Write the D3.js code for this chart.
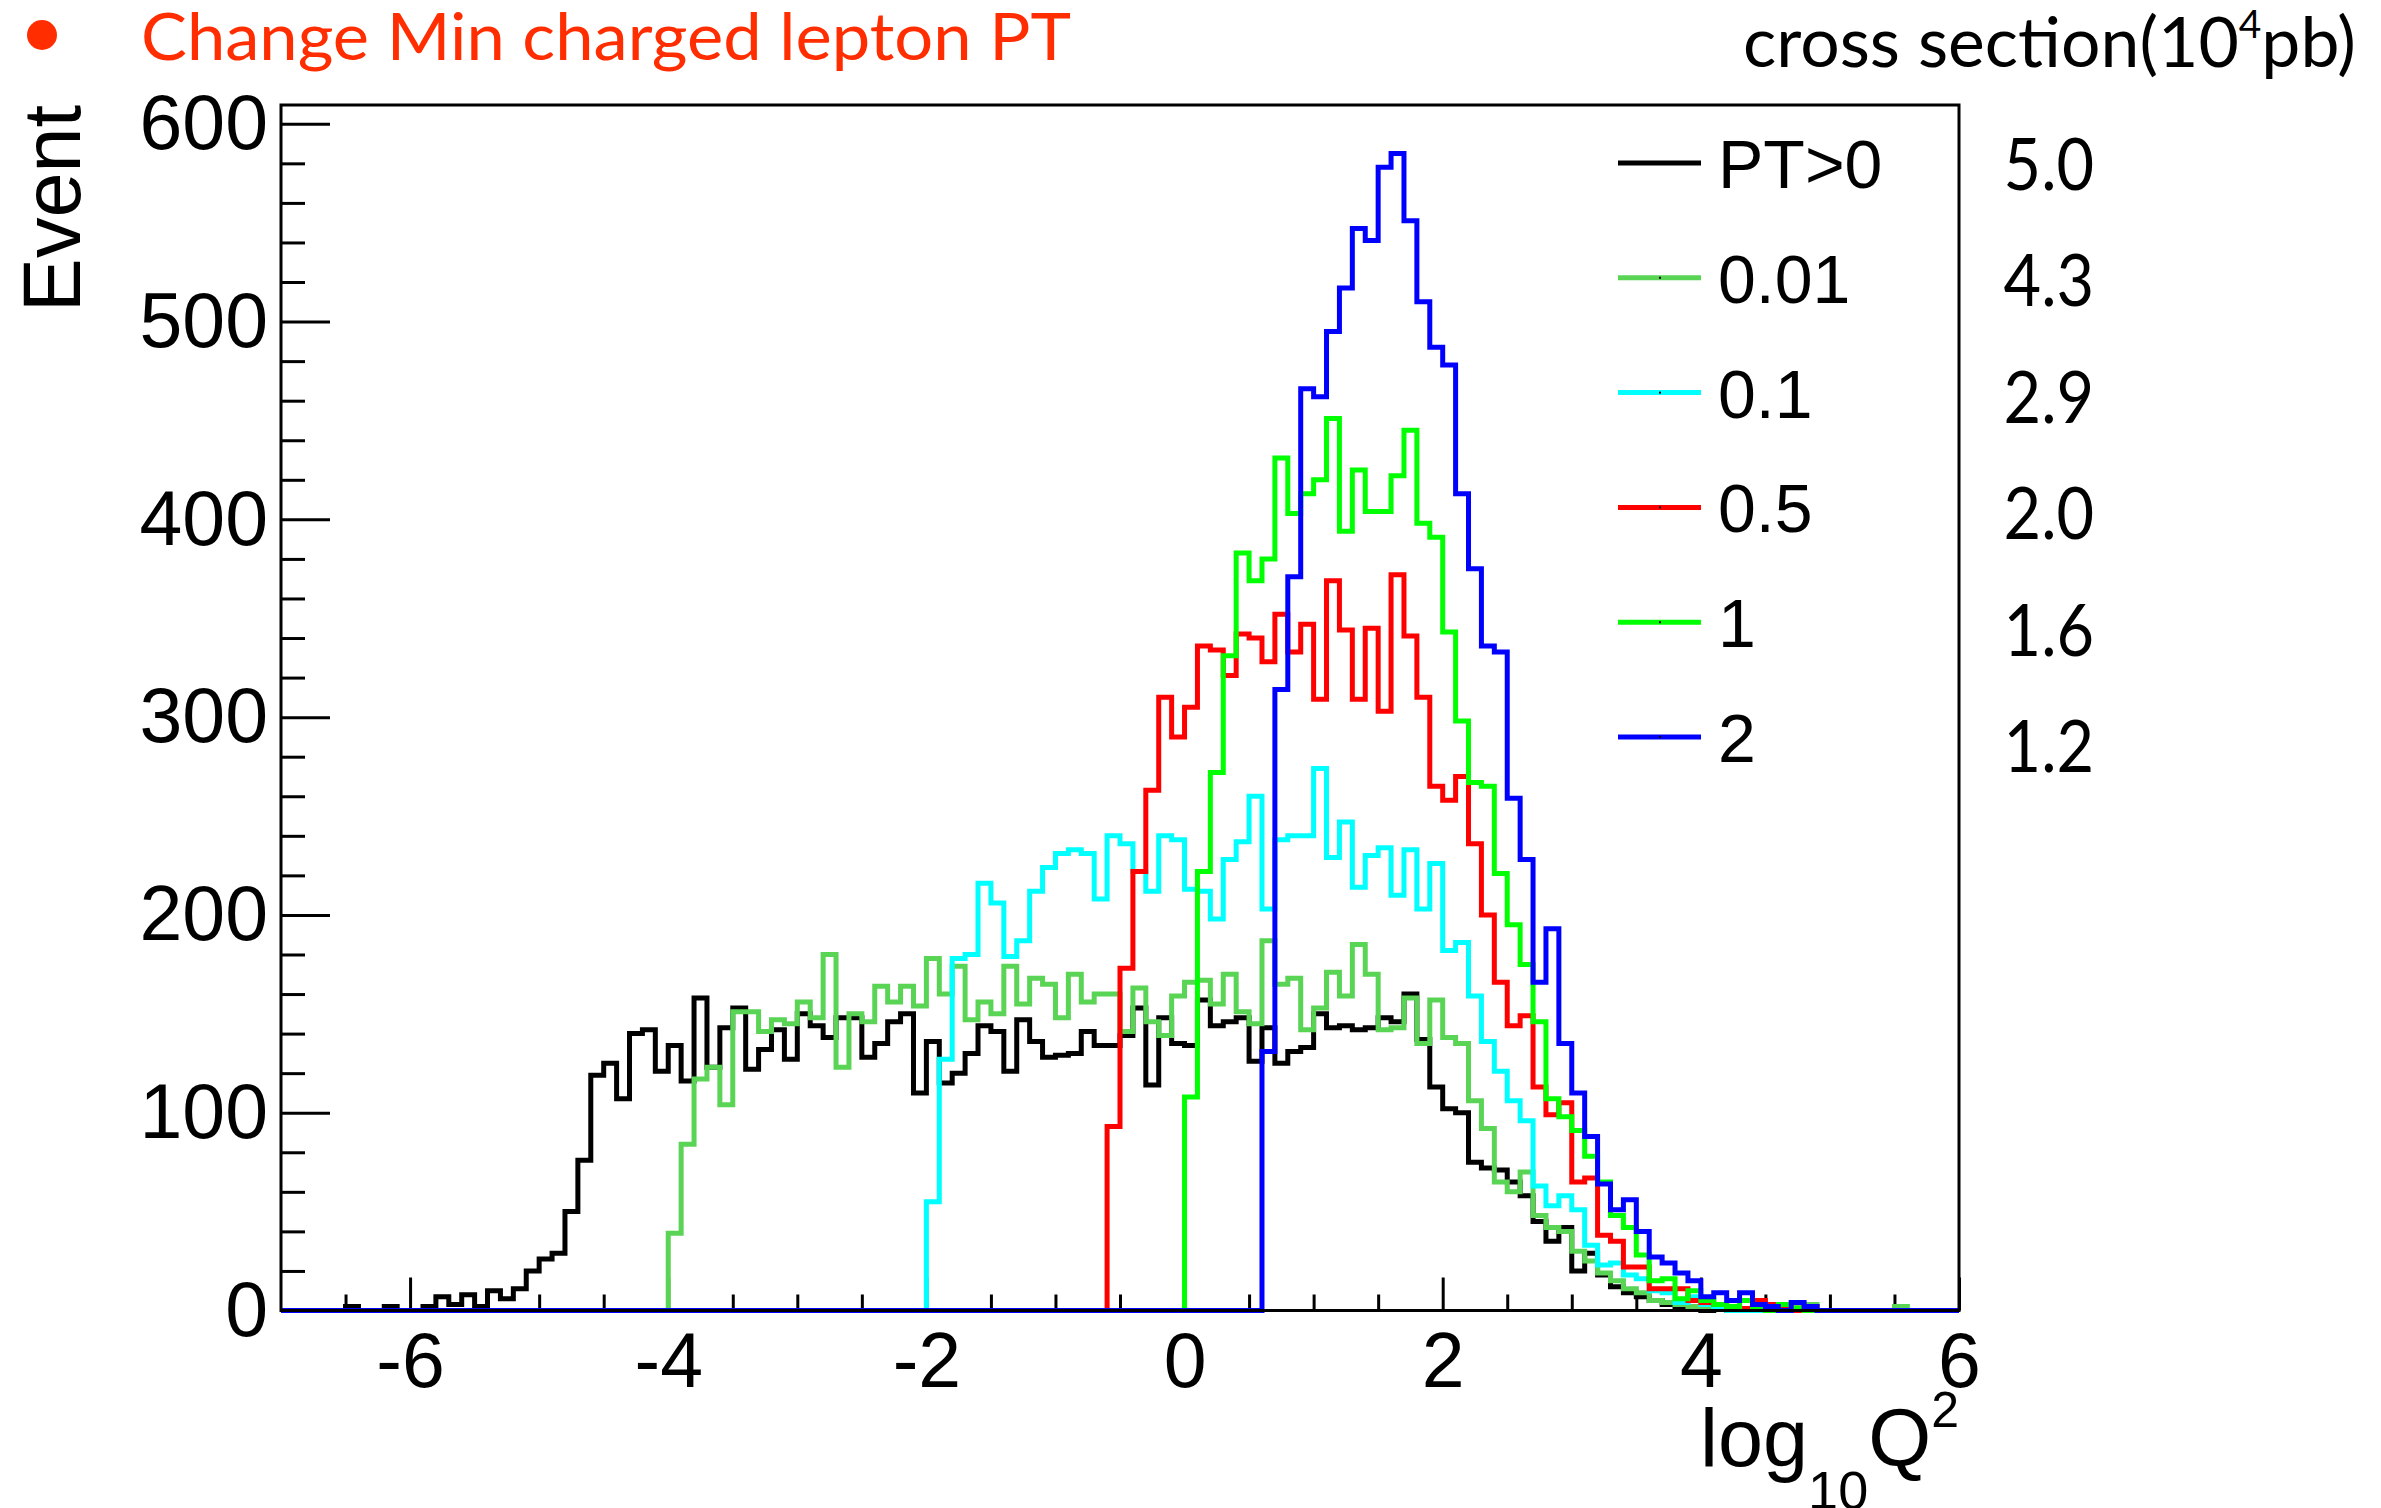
<!DOCTYPE html>
<html>
<head>
<meta charset="utf-8">
<script src="https://cdn.jsdelivr.net/npm/d3@7"></script>
<style>
  html, body { margin: 0; padding: 0; background: #ffffff; }
</style>
</head>
<body>
<svg id="chart" width="2381" height="1508"></svg>
<script>
// ---------------- data ----------------
// histogram binning: 130 bins of 0.1 in log10(Q^2), from -7 to 6
const binLow = -7;
const binWidth = 0.1;
const nBins = 130;

const seriesNames = ["PT>0", "0.01", "0.1", "0.5", "1", "2"];
const seriesColors = ["#000000", "#59d454", "#00ffff", "#ff0000", "#00ff00", "#0000ff"];
const crossSections = ["5.0", "4.3", "2.9", "2.0", "1.6", "1.2"];

const yTickValues = [0, 100, 200, 300, 400, 500, 600];
const xTickValues = [-6, -4, -2, 0, 2, 4, 6];
const xTickLabels = ["-6", "-4", "-2", "0", "2", "4", "6"];

const countsPT0 = [
  0,0,0,0,0,2,0,0,2,0,
  0,2,7,3,8,2,10,6,11,20,
  26,29,50,76,119,125,107,140,142,121,
  134,116,158,123,143,153,122,132,142,127,
  150,144,138,148,148,128,135,146,150,110,
  136,115,120,130,144,141,121,147,136,128,
  129,130,141,134,134,139,153,114,148,135,
  134,157,144,146,148,126,143,125,131,133,
  150,143,144,142,143,148,146,160,137,113,
  102,100,75,72,71,65,58,45,35,42,
  20,29,18,12,9,7,5,3,2,1,
  0,1,0,0,0,0,0,0,0,0,
  0,0,0,0,0,0,0,0,0,0
];
const countsPT001 = [
  0,0,0,0,0,0,0,0,0,0,
  0,0,0,0,0,0,0,0,0,0,
  0,0,0,0,0,0,0,0,0,0,
  39,84,117,123,104,151,151,141,147,145,
  156,148,180,123,150,146,164,156,164,154,
  178,160,174,147,156,150,174,155,168,165,
  148,170,156,160,160,141,163,146,139,159,
  166,167,155,170,151,145,187,165,168,142,
  153,171,159,185,170,142,143,158,135,157,
  138,135,106,92,65,60,70,48,42,40,
  30,25,19,15,11,9,5,4,3,2,
  1,1,1,1,0,1,0,3,3,0,
  0,0,0,0,0,2,0,0,0,0
];
const countsPT01 = [
  0,0,0,0,0,0,0,0,0,0,
  0,0,0,0,0,0,0,0,0,0,
  0,0,0,0,0,0,0,0,0,0,
  0,0,0,0,0,0,0,0,0,0,
  0,0,0,0,0,0,0,0,0,0,
  55,127,178,180,216,206,179,187,212,224,
  231,233,231,208,240,236,222,212,240,238,
  213,212,198,228,237,260,203,238,240,240,
  274,229,247,214,230,234,210,233,203,226,
  182,186,159,136,121,106,96,63,53,58,
  51,33,23,24,18,16,10,9,4,7,
  3,2,0,0,0,0,0,0,0,0,
  0,0,0,0,0,0,0,0,0,0
];
const countsPT05 = [
  0,0,0,0,0,0,0,0,0,0,
  0,0,0,0,0,0,0,0,0,0,
  0,0,0,0,0,0,0,0,0,0,
  0,0,0,0,0,0,0,0,0,0,
  0,0,0,0,0,0,0,0,0,0,
  0,0,0,0,0,0,0,0,0,0,
  0,0,0,0,93,173,222,263,310,290,
  305,336,334,321,342,340,328,352,333,347,
  309,369,344,309,345,303,372,341,310,265,
  258,270,236,200,166,144,149,113,99,105,
  65,67,38,35,22,22,11,11,11,5,
  4,3,2,1,5,3,2,0,2,0,
  0,0,0,0,0,0,0,0,0,0
];
const countsPT1 = [
  0,0,0,0,0,0,0,0,0,0,
  0,0,0,0,0,0,0,0,0,0,
  0,0,0,0,0,0,0,0,0,0,
  0,0,0,0,0,0,0,0,0,0,
  0,0,0,0,0,0,0,0,0,0,
  0,0,0,0,0,0,0,0,0,0,
  0,0,0,0,0,0,0,0,0,0,
  108,222,272,331,383,369,380,431,403,413,
  420,451,394,425,404,404,422,445,398,391,
  343,298,267,265,221,195,175,146,107,98,
  91,78,65,48,42,28,15,16,6,10,
  5,3,2,5,1,0,3,1,0,0,
  0,0,0,0,0,0,0,0,0,0
];
const countsPT2 = [
  0,0,0,0,0,0,0,0,0,0,
  0,0,0,0,0,0,0,0,0,0,
  0,0,0,0,0,0,0,0,0,0,
  0,0,0,0,0,0,0,0,0,0,
  0,0,0,0,0,0,0,0,0,0,
  0,0,0,0,0,0,0,0,0,0,
  0,0,0,0,0,0,0,0,0,0,
  0,0,0,0,0,0,131,314,371,466,
  462,495,517,547,541,578,585,551,510,487,
  478,413,375,336,333,259,228,166,193,135,
  110,88,64,51,56,40,27,24,19,15,
  7,9,5,9,3,2,0,4,2,0,
  0,0,0,0,0,0,0,0,0,0
];
const seriesCounts = [countsPT0, countsPT001, countsPT01, countsPT05, countsPT1, countsPT2];

// ---------------- layout ----------------
const frame = { left: 281, right: 1959, top: 105, bottom: 1310.5 };
const helv = "'Liberation Sans', Arial, Helvetica, sans-serif";
const gill = "Lato, 'Open Sans', sans-serif";

const x = d3.scaleLinear().domain([-7, 6]).range([frame.left, frame.right]);
const y = d3.scaleLinear().domain([0, 609.5]).range([frame.bottom, frame.top]);

const svg = d3.select("#chart");
svg.append("rect").attr("width", 2381).attr("height", 1508).attr("fill", "#ffffff");

// ---------------- axes (ticks inside frame) ----------------
const yMinor = d3.range(0, 609.5, 20).filter(v => v % 100 !== 0);
const xMinor = d3.range(-7, 6.001, 0.5).filter(v => xTickValues.indexOf(v) < 0 && v > -7 && v < 6);

function styleAxis(g) {
  g.select(".domain").remove();
  g.selectAll(".tick line").attr("stroke", "#000").attr("stroke-width", 3);
  g.attr("font-family", helv).attr("font-size", 77).attr("fill", "#000");
  g.selectAll(".tick text").attr("fill", "#000");
}

svg.append("g").attr("transform", `translate(${frame.left},0)`)
  .call(d3.axisLeft(y).tickValues(yMinor).tickSizeInner(-24).tickSizeOuter(0).tickFormat(""))
  .call(styleAxis);
svg.append("g").attr("transform", `translate(${frame.left},0)`)
  .call(d3.axisLeft(y).tickValues(yTickValues).tickSizeInner(-49).tickSizeOuter(0).tickPadding(13).tickFormat(d3.format("d")))
  .call(styleAxis);

svg.append("g").attr("transform", `translate(0,${frame.bottom})`)
  .call(d3.axisBottom(x).tickValues(xMinor).tickSizeInner(-16).tickSizeOuter(0).tickFormat(""))
  .call(styleAxis);
svg.append("g").attr("transform", `translate(0,${frame.bottom})`)
  .call(d3.axisBottom(x).tickValues(xTickValues).tickSizeInner(-33).tickSizeOuter(0).tickPadding(22)
        .tickFormat((d, i) => xTickLabels[i]))
  .call(styleAxis);

// ---------------- histograms ----------------
const edges = d3.range(nBins + 1).map(i => binLow + i * binWidth);
const stepLine = d3.line()
  .x(d => x(d[0]))
  .y(d => y(d[1]))
  .curve(d3.curveStepAfter);

seriesCounts.forEach((counts, s) => {
  const pts = counts.map((c, i) => [edges[i], c]);
  pts.push([edges[nBins], counts[nBins - 1]]);
  svg.append("path")
    .attr("d", stepLine(pts))
    .attr("fill", "none")
    .attr("stroke", seriesColors[s])
    .attr("stroke-width", 5)
    .attr("stroke-linejoin", "miter");
});

// frame on top
svg.append("rect")
  .attr("x", frame.left).attr("y", frame.top)
  .attr("width", frame.right - frame.left).attr("height", frame.bottom - frame.top)
  .attr("fill", "none").attr("stroke", "#000").attr("stroke-width", 3);

// ---------------- legend ----------------
const legend = svg.append("g");
seriesNames.forEach((name, i) => {
  const ly = 163 + i * 114.8;
  legend.append("line")
    .attr("x1", 1618).attr("x2", 1701).attr("y1", ly).attr("y2", ly)
    .attr("stroke", seriesColors[i]).attr("stroke-width", 5);
  legend.append("rect").attr("x", 1659).attr("y", ly - 1).attr("width", 2).attr("height", 2).attr("fill", "#000");
  legend.append("text")
    .attr("x", 1718).attr("y", ly + 25)
    .attr("font-family", helv).attr("font-size", 68).attr("fill", "#000")
    .text(name);
});

// cross section column
const csCol = svg.append("g").attr("transform", "translate(2094,0) scale(0.9,1)");
crossSections.forEach((v, i) => {
  csCol.append("text")
    .attr("x", 0).attr("y", 190 + i * 116.4)
    .attr("text-anchor", "end")
    .attr("font-family", gill).attr("font-size", 72).attr("fill", "#000")
    .text(v);
});

const cs = svg.append("text")
  .attr("x", 1743).attr("y", 67)
  .attr("font-family", gill).attr("font-size", 70).attr("fill", "#000")
  .attr("textLength", 613).attr("lengthAdjust", "spacingAndGlyphs");
cs.append("tspan").text("cross section(10");
cs.append("tspan").attr("font-size", 39).attr("dy", -29).text("4");
cs.append("tspan").attr("dy", 29).text("pb)");

// ---------------- titles ----------------
svg.append("circle").attr("cx", 42).attr("cy", 35).attr("r", 15).attr("fill", "#ff2d00");
svg.append("text")
  .attr("x", 141).attr("y", 60)
  .attr("font-family", gill).attr("font-size", 65).attr("fill", "#ff2d00")
  .attr("textLength", 930).attr("lengthAdjust", "spacingAndGlyphs")
  .text("Change Min charged lepton PT");

svg.append("text")
  .attr("transform", "translate(80,105) rotate(-90)")
  .attr("text-anchor", "end")
  .attr("font-family", helv).attr("font-size", 81).attr("fill", "#000")
  .text("Event");

const xt = svg.append("text")
  .attr("x", frame.right).attr("y", 1466)
  .attr("text-anchor", "end")
  .attr("font-family", helv).attr("font-size", 81).attr("fill", "#000");
xt.append("tspan").text("log");
xt.append("tspan").attr("font-size", 54).attr("dy", 43).text("10");
xt.append("tspan").attr("dy", -43).text("Q");
xt.append("tspan").attr("font-size", 50).attr("dy", -39).text("2");
</script>
</body>
</html>
